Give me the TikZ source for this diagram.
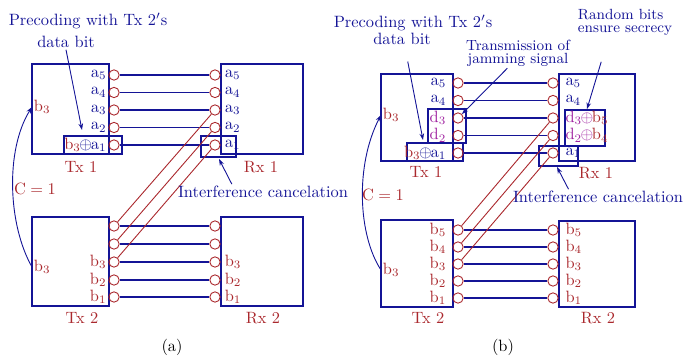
\documentclass[tikz,border=0pt]{standalone}
\usepackage{amsmath,amssymb}
\usepackage{tikz}
\usetikzlibrary{positioning,arrows.meta}
\usepackage{xcolor}
\definecolor{txblue}{RGB}{20,20,150}
\definecolor{txred}{RGB}{170,40,45}
\definecolor{jampurple}{RGB}{160,35,160}
\newcommand{\xorb}{\mkern-1.5mu{\oplus}\mkern-1.5mu}

\begin{document}
\begin{tikzpicture}[x=0.61pt,y=-0.61pt,
  box/.style={draw=txblue,line width=0.75pt},
  port/.style={circle,draw=txred,line width=0.55pt,inner sep=0pt,minimum size=6.3pt},
  wire/.style={draw=txblue,line width=0.75pt},
  leak/.style={draw=txred,line width=0.55pt},
  alab/.style={text=txblue,inner sep=1pt},
  blab/.style={text=txred,inner sep=1pt},
  dlab/.style={text=jampurple,inner sep=1pt},
  title/.style={text=txred},
  note/.style={text=txblue,inner sep=1pt},
  pointer/.style={draw=txblue,line width=0.55pt,-{Stealth[length=4pt,width=2.8pt]}}]
\useasboundingbox (0,0) rectangle (689,356);

% (a) two users, interference cancelation
\draw[box] (32,64) rectangle (109,154);
\draw[box] (221,64) rectangle (303,154);
\draw[box] (32,217) rectangle (109,306);
\draw[box] (221,217) rectangle (303,306);
\draw[box] (64,136) rectangle (122,154);
\draw[box] (201,136) rectangle (236,157);
\foreach \n/\y in {5/75,4/92.5,3/110,2/127.5,1/145}{
  \node[port] (a-t\n) at (114,\y) {};
  \node[port] (a-r\n) at (215,\y) {};
  \draw[wire] (a-t\n) -- (a-r\n);
}
\foreach \n/\y in {5/226,4/244,3/262,2/280,1/297}{
  \node[port] (a-u\n) at (114,\y) {};
  \node[port] (a-v\n) at (215,\y) {};
  \draw[wire] (a-u\n) -- (a-v\n);
}
\draw[leak] (a-u5) -- (a-r3);
\draw[leak] (a-u4) -- (a-r2);
\draw[leak] (a-u3) -- (a-r1);
\foreach \n in {5,4,3,2}{
  \node[alab,left=0pt of a-t\n] (a-lt\n) {$\mathrm{a}_\n$};
}
\node[alab,left=0pt of a-t1] (a-lt1) {$\textcolor{txred}{\mathrm{b}_3}\xorb\mathrm{a}_1$};
\foreach \n in {5,4,3,2,1}{
  \node[alab,right=1.4pt of a-r\n] (a-lr\n) {$\mathrm{a}_\n$};
}
\foreach \n in {3,2,1}{
  \node[blab,left=0pt of a-u\n] (a-lu\n) {$\mathrm{b}_\n$};
  \node[blab,right=1.4pt of a-v\n] (a-lv\n) {$\mathrm{b}_\n$};
}
\node[blab,anchor=west] (a-k1) at (32,107) {$\mathrm{b}_3$};
\node[blab,anchor=west] (a-k2) at (32,267) {$\mathrm{b}_3$};
\draw[pointer] (a-k2.west) .. controls (8,225) and (5,150) .. (a-k1.west);
\node[title] (a-c) at (35,189) {$\mathrm{C}=1$};
\node[title] (a-tx1) at (81,167) {Tx 1};
\node[title] (a-rx1) at (261,167) {Rx 1};
\node[title] (a-tx2) at (82,318) {Tx 2};
\node[title] (a-rx2) at (263,318) {Rx 2};
\node[note] (a-pre1) at (88,21) {Precoding with Tx 2$'$s};
\node[note] (a-pre2) at (66,42) {data bit};
\coordinate (a-pre-tip) at (82,130);
\draw[pointer] (a-pre2.south) -- (a-pre-tip);
\node[note] (a-ic) at (263,192) {Interference cancelation};
\coordinate (a-ic-tip) at (219,159);
\draw[pointer] ([xshift=-19pt]a-ic.north) -- (a-ic-tip);
\node (a-cap) at (172,347) {(a)};

% (b) jamming signal and secrecy
\draw[box] (381,74) rectangle (453,161);
\draw[box] (559,74) rectangle (635,161);
\draw[box] (381,220) rectangle (453,307);
\draw[box] (559,221) rectangle (635,307);
\draw[box] (428,109) rectangle (466,143);
\draw[box] (407,143) rectangle (463,161);
\draw[box] (565,110) rectangle (605,146);
\draw[box] (539,146) rectangle (578,166);
\foreach \n/\y in {5/83,4/100.5,3/118,2/135.5,1/153}{
  \node[port] (b-t\n) at (458,\y) {};
  \node[port] (b-r\n) at (553,\y) {};
  \draw[wire] (b-t\n) -- (b-r\n);
}
\foreach \n/\y in {5/230,4/247,3/264,2/281,1/298}{
  \node[port] (b-u\n) at (458,\y) {};
  \node[port] (b-v\n) at (553,\y) {};
  \draw[wire] (b-u\n) -- (b-v\n);
  \node[blab,left=2.6pt of b-u\n] (b-lu\n) {$\mathrm{b}_\n$};
  \node[blab,right=3pt of b-v\n] (b-lv\n) {$\mathrm{b}_\n$};
}
\draw[leak] (b-u5) -- (b-r3);
\draw[leak] (b-u4) -- (b-r2);
\draw[leak] (b-u3) -- (b-r1);
\foreach \n in {5,4}{
  \node[alab,left=2.6pt of b-t\n] (b-lt\n) {$\mathrm{a}_\n$};
  \node[alab,right=3pt of b-r\n] (b-lr\n) {$\mathrm{a}_\n$};
}
\node[dlab,left=2.6pt of b-t3] (b-lt3) {$\mathrm{d}_3$};
\node[dlab,left=2.6pt of b-t2] (b-lt2) {$\mathrm{d}_2$};
\node[alab,left=2.6pt of b-t1] (b-lt1) {$\textcolor{txred}{\mathrm{b}_3}\xorb\mathrm{a}_1$};
\node[dlab,right=3pt of b-r3] (b-rd3) {$\mathrm{d}_3\xorb\textcolor{txred}{\mathrm{b}_5}$};
\node[dlab,right=3pt of b-r2] (b-rd2) {$\mathrm{d}_2\xorb\textcolor{txred}{\mathrm{b}_4}$};
\node[alab,right=3pt of b-r1] (b-lr1) {$\mathrm{a}_1$};
\node[blab,anchor=west] (b-k1) at (381,115) {$\mathrm{b}_3$};
\node[blab,anchor=west] (b-k2) at (381,270) {$\mathrm{b}_3$};
\draw[pointer] (b-k2.west) .. controls (358,235) and (355,165) .. (b-k1.west);
\node[title] (b-c) at (383,195) {$\mathrm{C}=1$};
\node[title] (b-tx1) at (426,172) {Tx 1};
\node[title] (b-rx1) at (596,173) {Rx 1};
\node[title] (b-tx2) at (428,318) {Tx 2};
\node[title] (b-rx2) at (598,318) {Rx 2};
\node[note] (b-pre1) at (413,23) {Precoding with Tx 2$'$s};
\node[note] (b-pre2) at (402,39) {data bit};
\coordinate (b-pre-tip) at (423,140);
\draw[pointer] ([shift={(3.5pt,-9pt)}]b-pre2.south) -- (b-pre-tip);
\node[note,font=\small,align=center] (b-jam) at (518,53) {Transmission of\\[-3pt]jamming signal};
\draw[pointer] ([xshift=-6.5pt]b-jam.south) -- (b-t3);
\node[note,font=\small,align=left] (b-rnd) at (625,22) {Random bits\\[-3pt]ensure secrecy};
\draw[pointer] ([shift={(-14.5pt,-15pt)}]b-rnd.south) -- (b-rd3.north);
\node[note] (b-ic) at (598,197) {Interference cancelation};
\coordinate (b-ic-tip) at (557,167);
\draw[pointer] ([xshift=-18pt]b-ic.north) -- (b-ic-tip);
\node (b-cap) at (503,347) {(b)};
\end{tikzpicture}
\end{document}
